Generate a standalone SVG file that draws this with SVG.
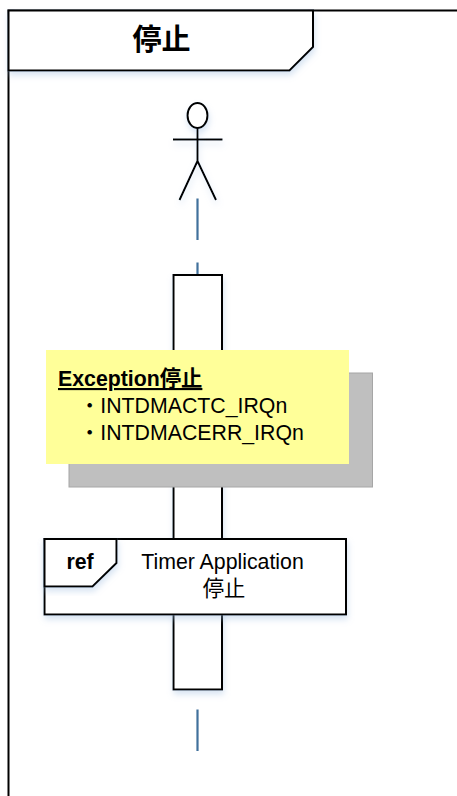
<svg xmlns="http://www.w3.org/2000/svg" width="457" height="796" viewBox="0 0 457 796">
<defs>
<filter id="sh" x="-20%" y="-20%" width="140%" height="140%"><feDropShadow dx="1" dy="4" stdDeviation="3" flood-color="#9dbbe0" flood-opacity="0.4"/></filter>
</defs>
<style>
.ln{fill:none;stroke:#000;stroke-width:2}
.box{fill:#fff;stroke:#000;stroke-width:2}
.life{fill:none;stroke:#41719c;stroke-width:2.2}
text{font-family:"Liberation Sans","Noto Sans CJK JP",sans-serif;fill:#000}
.t{font-size:21.3px}
.tb{font-size:21.3px;font-weight:bold}
</style>
<g id="frame">
<path class="ln" d="M8.500 796V10.500H457"/>
<path class="box" d="M8.500 10.500H313V47L289.500 70.500H8.500Z" filter="url(#sh)"/>
<text x="161.500" y="50" text-anchor="middle" font-size="29" font-weight="bold">停止</text>
</g>
<g id="connectors">
<path class="life" d="M197.500 198.500V240M197.500 262.500V275M197.500 709.500V751"/>
</g>
<g id="actor" filter="url(#sh)">
<ellipse class="ln" cx="197.500" cy="115.500" rx="10" ry="12.500" style="fill:#fff"/>
<path class="ln" d="M197.500 128V161M173 139.500H222.500M197.500 161L179.500 200M197.500 161L216 200"/>
</g>
<g id="activation">
<rect class="box" x="173.500" y="275" width="48.500" height="414.500" filter="url(#sh)"/>
</g>
<g id="note">
<rect x="69" y="373" width="303.500" height="114" fill="#bfbfbf" stroke="#a6a6a6" stroke-width="1"/>
<rect x="46" y="350" width="303" height="114" fill="#ffff99"/>
<text class="tb" x="58" y="386" text-decoration="underline">Exception停止</text>
<text class="t" x="79" y="413">・INTDMACTC_IRQn</text>
<text class="t" x="79" y="440">・INTDMACERR_IRQn</text>
</g>
<g id="ref">
<rect class="box" x="44.500" y="539" width="301.500" height="75.500" filter="url(#sh)"/>
<path class="box" d="M44.500 539H116.500V563L92.500 586.500H44.500Z" filter="url(#sh)"/>
<text class="tb" x="80" y="569" text-anchor="middle">ref</text>
<text class="t" x="222.500" y="569" text-anchor="middle">Timer Application</text>
<text class="t" x="224" y="596" text-anchor="middle">停止</text>
</g>
</svg>
